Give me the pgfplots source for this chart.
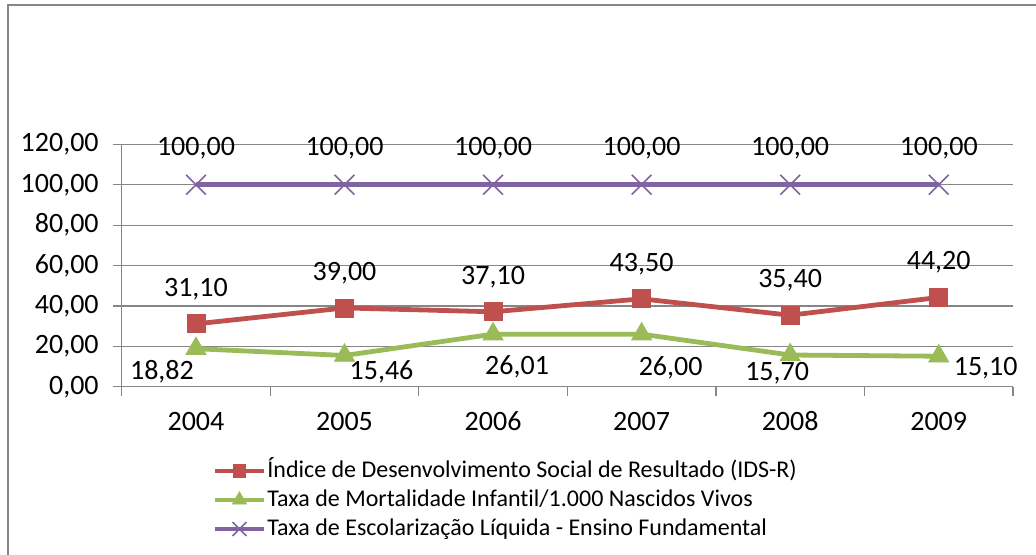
\documentclass[border=0pt]{standalone}
\usepackage{pgfplots}
\pgfplotsset{compat=1.18}
\usepackage{fontspec}
\setmainfont{Carlito}[Ligatures=NoCommon]

\definecolor{idsred}{HTML}{C0504D}
\definecolor{mortgreen}{HTML}{9BBB59}
\definecolor{escpurple}{HTML}{8064A2}
\definecolor{axgray}{HTML}{868686}

% green series: label offsets in px (dx right, dy down)
\pgfplotstableread{
x y dx dy
1 18.82 -34 23
2 15.46 37 16
3 26.01 24 33
4 26.00 29 34
5 15.70 -13 18
6 15.10 47 12
}\mortdata

\newcommand{\chartfont}{\fontsize{14}{16.8}\selectfont}
\newcommand{\legfont}{\fontsize{12}{14.4}\selectfont}

\pgfkeys{/pgf/number format/commatwo/.style={/pgf/number format/fixed,
    /pgf/number format/fixed zerofill, /pgf/number format/precision=2,
    /pgf/number format/use comma, /pgf/number format/assume math mode=true}}

\begin{document}
\begin{tikzpicture}[font=\chartfont]
% 1 px = 0.5pt, origin at the top left corner
\useasboundingbox (0pt,0pt) rectangle (518pt,-277pt);
\draw[axgray, line width=1pt] (4pt,-290pt) -- (4pt,-2.5pt) -- (530pt,-2.5pt);

\begin{axis}[
    at={(60.85pt,-193.35pt)}, anchor=south west,
    scale only axis, width=445.65pt, height=121.2pt,
    xmin=0.5, xmax=6.5, ymin=0, ymax=120,
    axis x line*=bottom, axis y line*=left,
    axis line style={draw=axgray, line width=0.6pt},
    xtick={1,...,6}, xticklabels={2004,2005,2006,2007,2008,2009},
    major x tick style={draw=none},
    minor xtick={0.5,1.5,...,6.5},
    ytick={0,20,...,120},
    tick align=outside, major tick length=4.5pt, minor tick length=4.5pt,
    tick style={draw=axgray, line width=0.6pt},
    ymajorgrids, grid style={draw=axgray, line width=0.6pt},
    tick label style={font=\chartfont},
    yticklabel style={/pgf/number format/commatwo, xshift=-3.5pt},
    xticklabel style={anchor=north, text height=10pt, text depth=0pt, yshift=-4pt},
    nodes near coords,
    every node near coord/.append style={font=\chartfont, anchor=center, text=black,
        /pgf/number format/commatwo},
    legend style={at={(0.1015,-0.286)}, anchor=north west, draw=none, fill=none,
        font=\legfont, inner sep=0pt,
        nodes={inner sep=0.5pt, text height=10pt, text depth=3.5pt}},
    legend cell align=left,
    legend image code/.code={\draw[mark repeat=2,mark phase=2,#1,every mark/.append style={scale=0.7}]
        plot coordinates {(0pt,0pt) (12.25pt,0pt) (24.5pt,0pt)};},
]

\addplot[idsred, line width=2.4pt, mark=square*, mark size=4.5pt,
    mark options={solid, line width=0.4pt, fill=idsred},
    every node near coord/.append style={yshift=17.5pt}]
    coordinates {(1,31.10) (2,39.00) (3,37.10) (4,43.50) (5,35.40) (6,44.20)};
\addlegendentry{Índice de Desenvolvimento Social de Resultado (IDS-R)}

\addplot[mortgreen, line width=2.4pt, mark=triangle*, mark size=5.8pt,
    mark options={solid, line width=0.4pt, fill=mortgreen},
    visualization depends on={\thisrow{dx}\as\dx},
    visualization depends on={\thisrow{dy}\as\dy},
    every node near coord/.append style={xshift={\dx*0.5pt}, yshift={-\dy*0.5pt}}]
    table[x=x, y=y] {\mortdata};
\addlegendentry{Taxa de Mortalidade Infantil/1.000 Nascidos Vivos}

\addplot[escpurple, line width=2.4pt, mark=x, mark size=7pt,
    mark options={solid, line width=0.8pt},
    every node near coord/.append style={yshift=18.5pt}]
    coordinates {(1,100) (2,100) (3,100) (4,100) (5,100) (6,100)};
\addlegendentry{Taxa de Escolarização Líquida - Ensino Fundamental}

\end{axis}
\end{tikzpicture}
\end{document}
